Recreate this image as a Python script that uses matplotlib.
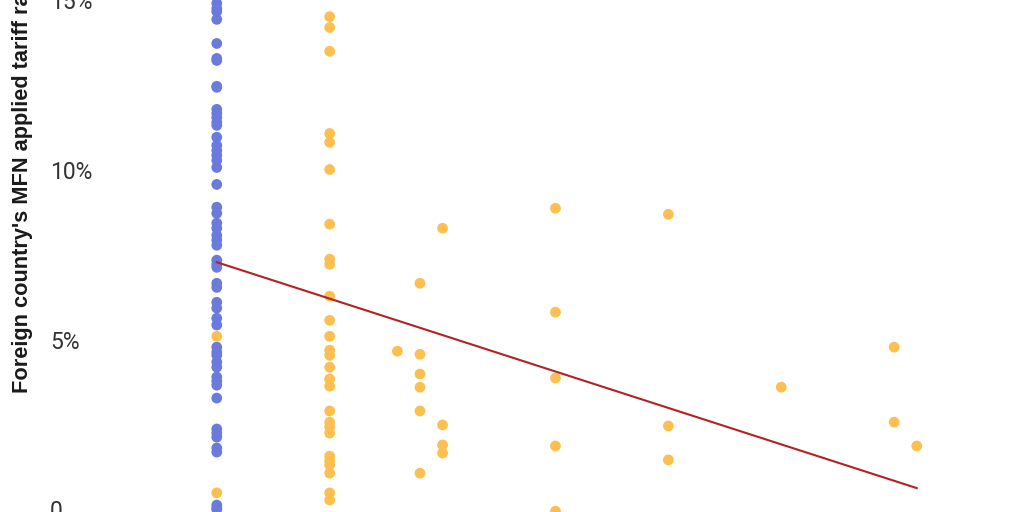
import matplotlib
matplotlib.use("Agg")
import matplotlib.pyplot as plt

# x positions (US-side tariff measure), y = foreign MFN applied tariff (%)
blue_x = [0.0] * 54
blue_y = [14.90, 14.75, 14.66, 14.43, 13.72, 13.28, 13.22, 12.46, 12.43, 11.78,
          11.66, 11.54, 11.40, 11.31, 10.96, 10.72, 10.57, 10.43, 10.28, 10.07,
          9.57, 8.90, 8.72, 8.43, 8.28, 8.07, 7.93, 7.78, 7.34, 7.22,
          7.13, 6.66, 6.54, 6.10, 5.93, 5.63, 5.43, 4.78, 4.63, 4.54,
          4.34, 4.19, 3.90, 3.78, 3.66, 3.28, 2.37, 2.25, 2.13, 1.81,
          1.69, 0.13, 0.04, 0.0]

orange_x = ([0.0] * 2 + [1.0] * 27 + [1.6] + [1.8] * 6 + [2.0] * 4 +
            [3.0] * 5 + [4.0] * 3 + [5.0] + [6.0] * 2 + [6.2])
orange_y = ([5.10, 0.49] +
            [14.51, 14.19, 13.49, 11.07, 10.81, 10.01, 8.40, 7.37, 7.22, 6.28,
             5.57, 5.10, 4.69, 4.54, 4.19, 3.84, 3.63, 2.90, 2.57, 2.43,
             2.25, 1.57, 1.43, 1.31, 1.07, 0.49, 0.28] +
            [4.66] +
            [6.66, 4.57, 3.99, 3.60, 2.90, 1.07] +
            [8.28, 2.49, 1.90, 1.66] +
            [8.87, 5.81, 3.87, 1.87, -0.05] +
            [8.69, 2.46, 1.46] +
            [3.60] +
            [4.78, 2.57] +
            [1.87])

fit_x = [0.0, 6.2]
fit_y = [7.28, 0.63]

ytick_vals = [0, 5, 10, 15]
ytick_labels = ["0", "5%", "10%", "15%"]
ylabel = "Foreign country's MFN applied tariff rate"

BLUE = "#6b7bdd"
ORANGE = "#fdbf4f"
RED = "#b22222"

fig = plt.figure(figsize=(10.24, 5.12), dpi=100)
ax = fig.add_axes([0, 0, 1, 1])
ax.set_xlim(-1.92, 7.15)
ax.set_ylim(-0.074, 14.985)

ax.scatter(blue_x, blue_y, s=60, color=BLUE, edgecolors="none", zorder=2)
ax.scatter(orange_x, orange_y, s=60, color=ORANGE, edgecolors="none", zorder=3)
ax.plot(fit_x, fit_y, color=RED, lw=1.5, zorder=4)

for s in ax.spines.values():
    s.set_visible(False)
ax.set_xticks([])
ax.set_yticks(ytick_vals)
ax.set_yticklabels(ytick_labels)
ax.tick_params(axis="y", length=0, pad=-36)
for lab in ax.get_yticklabels():
    lab.set_horizontalalignment("left")
    lab.set_fontfamily(["Roboto", "DejaVu Sans"])
    lab.set_fontweight("normal")
    lab.set_fontsize(16.5)
    lab.set_color("#333333")

fig.text(23 / 1024, 119 / 512, ylabel, rotation=90, ha="center", va="bottom",
         fontsize=15.7, fontweight="bold", color="#1a1a1a",
         family=["Liberation Sans", "DejaVu Sans"])

fig.savefig("out.png", dpi=100)
